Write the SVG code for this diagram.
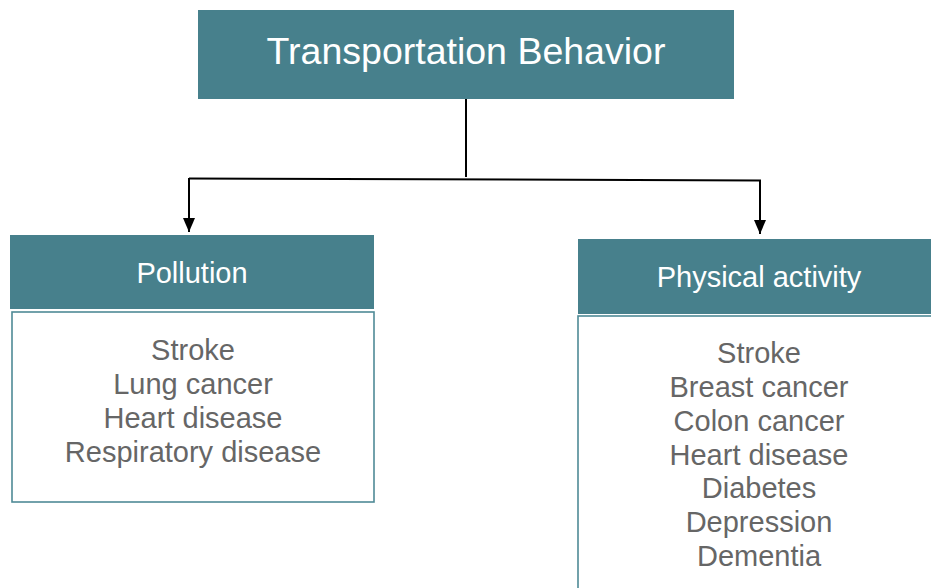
<svg xmlns="http://www.w3.org/2000/svg" width="931" height="588" viewBox="0 0 931 588">
<defs>
<marker id="arr" markerWidth="14" markerHeight="12" refX="14" refY="6" orient="auto" markerUnits="userSpaceOnUse" viewBox="0 0 14 12">
<path d="M0,0 L14,6 L0,12 Z" fill="#000"/>
</marker>
</defs>
<style>
.hdr{fill:#47808c}
.body{fill:#fff;stroke:#4f8a96;stroke-width:1.6}
.ht{font-family:"Liberation Sans",Arial,sans-serif;fill:#fff;text-anchor:middle}
.bt{font-family:"Liberation Sans",Arial,sans-serif;fill:#666;font-size:29px;text-anchor:middle}
.ln{stroke:#000;stroke-width:2;fill:none}
</style>
<rect width="931" height="588" fill="#fff"/>
<g id="top">
<rect class="hdr" x="198" y="10" width="536" height="89"/>
<text class="ht" x="466" y="64" font-size="37.5">Transportation Behavior</text>
</g>
<g id="connectors">
<line class="ln" x1="466" y1="99" x2="466" y2="177"/>
<line class="ln" x1="189" y1="178.5" x2="761" y2="180.5"/>
<line class="ln" x1="189" y1="178" x2="189" y2="232" marker-end="url(#arr)"/>
<line class="ln" x1="760" y1="180" x2="760" y2="234" marker-end="url(#arr)"/>
</g>
<g id="pollution">
<rect class="hdr" x="10" y="235" width="364" height="74"/>
<text class="ht" x="192" y="283" font-size="29">Pollution</text>
<rect class="body" x="12" y="312" width="362" height="190"/>
<text class="bt" x="193" y="360">Stroke</text>
<text class="bt" x="193" y="394">Lung cancer</text>
<text class="bt" x="193" y="428">Heart disease</text>
<text class="bt" x="193" y="462">Respiratory disease</text>
</g>
<g id="physical">
<rect class="hdr" x="578" y="239" width="353" height="75"/>
<text class="ht" x="759" y="287" font-size="29">Physical activity</text>
<rect class="body" x="578" y="316" width="360" height="280"/>
<text class="bt" x="759" y="363">Stroke</text>
<text class="bt" x="759" y="397">Breast cancer</text>
<text class="bt" x="759" y="431">Colon cancer</text>
<text class="bt" x="759" y="465">Heart disease</text>
<text class="bt" x="759" y="498">Diabetes</text>
<text class="bt" x="759" y="532">Depression</text>
<text class="bt" x="759" y="566">Dementia</text>
</g>
</svg>
